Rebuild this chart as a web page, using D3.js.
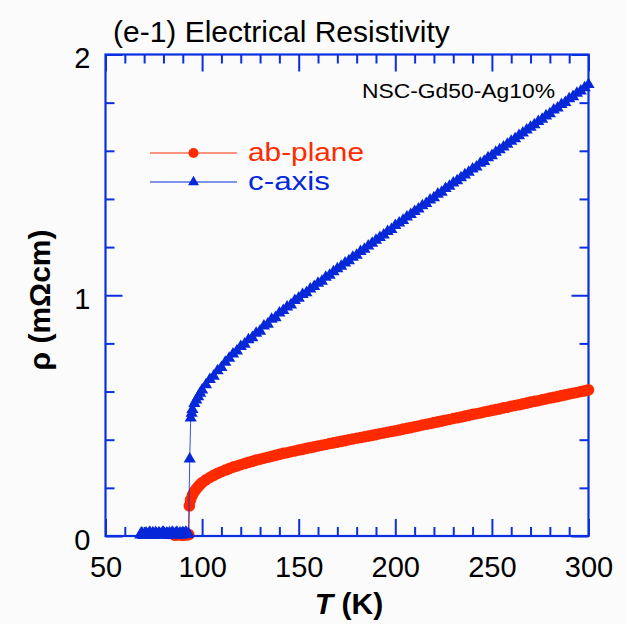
<!DOCTYPE html>
<html><head><meta charset="utf-8">
<script src="https://cdn.jsdelivr.net/npm/d3@7"></script>
<style>
html,body{margin:0;padding:0;background:#fbfbfb;}
svg{display:block;font-family:"Liberation Sans",Arial,Helvetica,sans-serif;}
</style></head>
<body><svg id="c" width="626" height="624"></svg>
<script>
// ---------- data ----------
const title = "(e-1) Electrical Resistivity";
const sampleLabel = "NSC-Gd50-Ag10%";
const seriesNames = ["ab-plane", "c-axis"];
const xTicks = [50, 100, 150, 200, 250, 300];
const yTicks = [0, 1, 2];

// ab-plane: [T (K), rho (mOhm cm)]
const abPlane = [
 [86,0.003],[88,0.004],[90,0.003],[92,0.004],[93.1,0.006],
 [93.4,0.125],[94,0.150],[95,0.170],[96,0.185],[97,0.196],[98,0.205],[99,0.214],
 [100,0.222],[102,0.233],[104,0.243],[106,0.252],[108,0.260],[110,0.267],[112,0.274],[114,0.280],[116,0.286],[118,0.291],
 [120,0.296],[122,0.301],[124,0.306],[126,0.310],[128,0.315],[130,0.319],[132,0.323],[134,0.327],[136,0.331],[138,0.335],
 [140,0.339],[142,0.343],[144,0.346],[146,0.350],[148,0.353],[150,0.357],[152,0.360],[154,0.364],[156,0.367],[158,0.370],
 [160,0.374],[162,0.377],[164,0.380],[166,0.384],[168,0.387],[170,0.390],[172,0.393],[174,0.396],[176,0.400],[178,0.403],
 [180,0.406],[182,0.409],[184,0.412],[186,0.415],[188,0.418],[190,0.421],[192,0.425],[194,0.428],[196,0.431],[198,0.434],
 [200,0.437],[202,0.440],[204,0.444],[206,0.447],[208,0.450],[210,0.454],[212,0.457],[214,0.461],[216,0.464],[218,0.467],
 [220,0.471],[222,0.474],[224,0.477],[226,0.481],[228,0.484],[230,0.488],[232,0.491],[234,0.494],[236,0.498],[238,0.501],
 [240,0.505],[242,0.508],[244,0.511],[246,0.515],[248,0.518],[250,0.522],[252,0.525],[254,0.528],[256,0.532],[258,0.535],
 [260,0.539],[262,0.542],[264,0.545],[266,0.549],[268,0.552],[270,0.556],[272,0.559],[274,0.562],[276,0.566],[278,0.569],
 [280,0.573],[282,0.576],[284,0.579],[286,0.583],[288,0.586],[290,0.590],[292,0.593],[294,0.596],[296,0.600],[298,0.603],
 [300,0.607]
];

// c-axis: [T (K), rho (mOhm cm)]
const cAxis = [
 [68,0.004],[68.5,0.012],[69,0.010],[69.5,0.002],[70,0.003],[70.5,0.008],[71,0.012],[71.5,0.005],[72,0.006],[72.5,0.011],
 [73,0.015],[73.5,0.003],[74,0.004],[74.5,0.013],[75,0.009],[75.5,0.002],[76,0.014],[76.5,0.007],[77,0.005],[77.5,0.012],
 [78,0.011],[78.5,0.003],[79,0.007],[79.5,0.014],[80,0.016],[80.5,0.006],[81,0.004],[81.5,0.011],[82,0.010],[82.5,0.002],
 [83,0.013],[83.5,0.008],[84,0.006],[84.5,0.015],[85,0.012],[85.5,0.004],[86,0.008],[86.5,0.013],[87,0.015],[87.5,0.005],
 [88,0.005],[88.5,0.012],[89,0.011],[89.5,0.003],[90,0.014],[90.5,0.009],[91,0.007],[91.5,0.016],[92,0.012],[92.5,0.006],[93,0.009],
 [93.6,0.320],[94.1,0.490],[94.6,0.510],[95,0.525],[96,0.550],[97,0.565],[98,0.578],[99,0.593],
 [100,0.606],[102,0.628],[104,0.650],[106,0.664],[108,0.686],[110,0.700],[112,0.722],[114,0.738],[116,0.756],[118,0.768],
 [120,0.787],[122,0.797],[124,0.815],[126,0.824],[128,0.842],[130,0.851],[132,0.872],[134,0.880],[136,0.900],[138,0.907],
 [140,0.926],[142,0.937],[144,0.951],[146,0.960],[148,0.978],[150,0.988],[152,1.003],[154,1.010],[156,1.026],[158,1.036],
 [160,1.050],[162,1.058],[164,1.075],[166,1.083],[168,1.098],[170,1.110],[172,1.120],[174,1.134],[176,1.143],[178,1.158],
 [180,1.166],[182,1.182],[184,1.191],[186,1.205],[188,1.216],[190,1.228],[192,1.240],[194,1.250],[196,1.265],[198,1.273],
 [200,1.290],[202,1.300],[204,1.311],[206,1.325],[208,1.335],[210,1.348],[212,1.358],[214,1.372],[216,1.381],[218,1.396],
 [220,1.405],[222,1.420],[224,1.428],[226,1.443],[228,1.453],[230,1.466],[232,1.476],[234,1.488],[236,1.500],[238,1.511],
 [240,1.524],[242,1.533],[244,1.548],[246,1.556],[248,1.571],[250,1.580],[252,1.594],[254,1.604],[256,1.616],[258,1.627],
 [260,1.640],[262,1.650],[264,1.663],[266,1.674],[268,1.686],[270,1.698],[272,1.708],[274,1.722],[276,1.731],[278,1.745],
 [280,1.754],[282,1.769],[284,1.778],[286,1.792],[288,1.801],[290,1.816],[292,1.825],[294,1.839],[296,1.848],[298,1.862],
 [300,1.875]
];

// ---------- drawing ----------
const RED = "#ff2a00", BLUE = "#0628d8", FRAME = "#0b2fe0";
const FONT = "Liberation Sans, Arial, sans-serif";
const svg = d3.select("#c");
const L = 105.5, R = 588.5, T = 54.5, B = 536;
const x = d3.scaleLinear().domain([50, 300]).range([L, R]);
const y = d3.scaleLinear().domain([0, 2]).range([B, T]);

svg.append("rect").attr("width",626).attr("height",624).attr("fill","#fbfbfb");

const xMinor = d3.range(50, 301, 10).filter(v => v % 50 !== 0);
const yMinor = d3.range(0, 2.001, 0.2).map(v => +v.toFixed(1)).filter(v => v % 1 !== 0);

function styleAxis(g){
  g.select(".domain").remove();
  g.selectAll(".tick line").attr("stroke", FRAME).attr("stroke-width", 2);
}
const MAJ = 17, MIN = 9;
// bottom
svg.append("g").attr("transform",`translate(0,${B})`)
  .call(d3.axisBottom(x).tickValues(xTicks).tickSize(-MAJ).tickPadding(20).tickFormat(d3.format("d")))
  .call(styleAxis)
  .call(g => g.selectAll("text").attr("font-size",29).attr("fill","#000").attr("font-family",FONT));
svg.append("g").attr("transform",`translate(0,${B})`)
  .call(d3.axisBottom(x).tickValues(xMinor).tickSize(-MIN).tickFormat(""))
  .call(styleAxis);
// top
svg.append("g").attr("transform",`translate(0,${T})`)
  .call(d3.axisTop(x).tickValues(xTicks).tickSize(-MAJ).tickFormat(""))
  .call(styleAxis);
svg.append("g").attr("transform",`translate(0,${T})`)
  .call(d3.axisTop(x).tickValues(xMinor).tickSize(-MIN).tickFormat(""))
  .call(styleAxis);
// left
svg.append("g").attr("transform",`translate(${L},0)`)
  .call(d3.axisLeft(y).tickValues(yTicks).tickSize(-MAJ).tickPadding(15).tickFormat(d3.format("d")))
  .call(styleAxis)
  .call(g => g.selectAll("text").attr("font-size",29).attr("dy","0.45em").attr("fill","#000").attr("font-family",FONT));
svg.append("g").attr("transform",`translate(${L},0)`)
  .call(d3.axisLeft(y).tickValues(yMinor).tickSize(-MIN).tickFormat(""))
  .call(styleAxis);
// right
svg.append("g").attr("transform",`translate(${R},0)`)
  .call(d3.axisRight(y).tickValues(yTicks).tickSize(-MAJ).tickFormat(""))
  .call(styleAxis);
svg.append("g").attr("transform",`translate(${R},0)`)
  .call(d3.axisRight(y).tickValues(yMinor).tickSize(-MIN).tickFormat(""))
  .call(styleAxis);

// frame
svg.append("rect").attr("x",L).attr("y",T).attr("width",R-L).attr("height",B-T)
  .attr("fill","none").attr("stroke",FRAME).attr("stroke-width",2.2);

const line = d3.line().x(d => x(d[0])).y(d => y(d[1]));

// ab-plane
svg.append("path").datum(abPlane).attr("d", line).attr("fill","none").attr("stroke",RED).attr("stroke-width",1);
svg.append("g").selectAll("circle").data(abPlane).join("circle")
  .attr("cx", d => x(d[0])).attr("cy", d => y(d[1])).attr("r", 5.8).attr("fill", RED);

// c-axis
const tri = d3.symbol().type(d3.symbolTriangle).size(64);
svg.append("path").datum(cAxis).attr("d", line).attr("fill","none").attr("stroke",BLUE).attr("stroke-width",1).attr("stroke-opacity",0.8);
svg.append("g").selectAll("path").data(cAxis).join("path")
  .attr("d", tri).attr("transform", d => `translate(${x(d[0])},${y(d[1])})`).attr("fill", BLUE);

// legend
const legend = [
  {name: seriesNames[0], color: RED, sym: "circle", yy: 153, w: 116},
  {name: seriesNames[1], color: BLUE, sym: "tri", yy: 182, w: 82}
];
legend.forEach(l => {
  svg.append("line").attr("x1",150).attr("x2",237).attr("y1",l.yy).attr("y2",l.yy)
    .attr("stroke",l.color).attr("stroke-width",1);
  if (l.sym === "circle") svg.append("circle").attr("cx",193.5).attr("cy",l.yy).attr("r",5).attr("fill",l.color);
  else svg.append("path").attr("d", d3.symbol().type(d3.symbolTriangle).size(52)()).attr("transform",`translate(193.5,${l.yy})`).attr("fill",l.color);
  svg.append("text").attr("x",248).attr("y",l.yy+7.5).attr("font-size",25)
    .attr("textLength",l.w).attr("lengthAdjust","spacingAndGlyphs").attr("fill",l.color).text(l.name);
});

// title & annotation
svg.append("text").attr("x",113).attr("y",42).attr("font-size",30).attr("fill","#000").text(title);
svg.append("text").attr("x",362).attr("y",98).attr("font-size",20)
  .attr("textLength",193).attr("lengthAdjust","spacingAndGlyphs").attr("fill","#000").text(sampleLabel);

// axis labels
const xl = svg.append("text").attr("x",349).attr("y",614).attr("text-anchor","middle")
  .attr("font-size",30).attr("font-weight","bold").attr("fill","#000");
xl.append("tspan").attr("font-style","italic").text("T");
xl.append("tspan").text(" (K)");
svg.append("text").attr("transform","translate(50,300) rotate(-90)").attr("text-anchor","middle")
  .attr("font-size",30).attr("font-weight","bold").attr("fill","#000").text("ρ (mΩcm)");
</script></body></html>
